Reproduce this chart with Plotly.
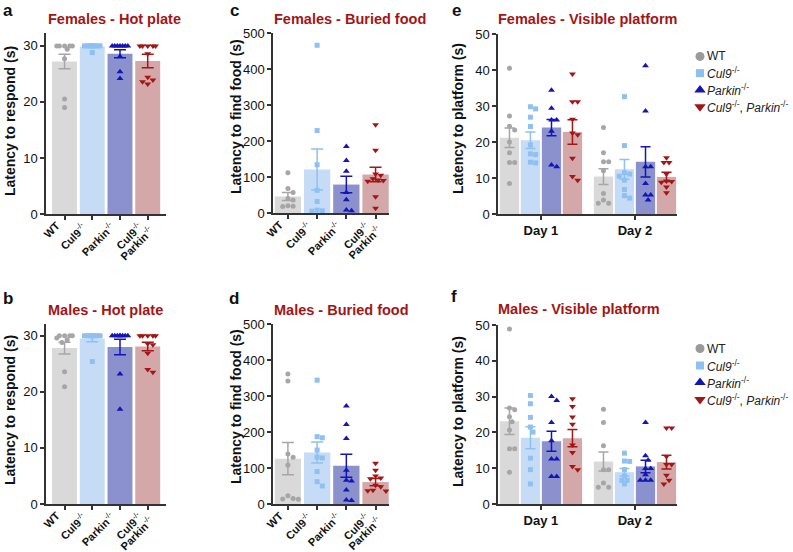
import numpy as np
import plotly.graph_objects as go

W, H = 793, 552

# ---------------- data ----------------
GENO_LINES = [["<b>WT</b>"], ["<b>Cul9</b><sup>-/-</sup>"], ["<b>Parkin</b><sup>-/-</sup>"],
              ["<b>Cul9</b><sup>-/-</sup>", "<b>Parkin</b><sup>-/-</sup>"]]
LEGEND_NAMES = ["WT", "<i>Cul9</i><sup>-/-</sup>", "<i>Parkin</i><sup>-/-</sup>",
                "<i>Cul9</i><sup>-/-</sup>, <i>Parkin</i><sup>-/-</sup>"]
DAY_TICKS = ["<b>Day 1</b>", "<b>Day 2</b>"]

# a - Females hot plate
HOT_F_MEAN = [27.2, 29.9, 28.6, 27.3]
HOT_F_SEM = [1.3, 0.1, 0.7, 1.2]
HOT_F_PTS = [[30, 30, 30, 30, 30, 29.4, 27.7, 20.5, 19.0],
             [30, 30, 30, 30, 30, 30, 30, 30, 30, 28.8],
             [30, 30, 30, 30, 30, 30, 30, 28.1, 25.4, 24.2],
             [30, 30, 30, 30, 30, 28.6, 24.4, 23.9, 23.6, 23.2]]
# b - Males hot plate
HOT_M_MEAN = [27.8, 29.5, 28.0, 28.1]
HOT_M_SEM = [1.05, 0.55, 1.4, 0.75]
HOT_M_PTS = [[30, 30, 30, 30, 29.6, 29.3, 28.8, 23.6, 20.9],
             [30, 30, 30, 30, 30, 30, 30, 30, 30, 25.4],
             [30, 30, 30, 30, 30, 30, 30, 30, 23.2, 16.9],
             [30, 30, 30, 30, 30, 28.6, 28.4, 26.9, 24.0, 23.5]]
# c - Females buried food
FOOD_F_MEAN = [46, 121, 79, 107]
FOOD_F_SEM = [11, 57, 23, 20]
FOOD_F_PTS = [[112, 68, 57, 40, 36, 20, 19, 18],
              [466, 229, 134, 63, 32, 8, 6, 5],
              [185, 146, 116, 57, 37, 8, 6],
              [245, 174, 108, 105, 95, 92, 90, 88, 45, 13]]
# d - Males buried food
FOOD_M_MEAN = [126, 143, 106, 61]
FOOD_M_SEM = [45, 29, 32, 10]
FOOD_M_PTS = [[361, 342, 139, 130, 108, 23, 15, 14, 13],
              [344, 187, 184, 150, 130, 128, 90, 62, 50],
              [272, 221, 182, 94, 66, 64, 39, 11, 10],
              [113, 94, 78, 72, 70, 52, 48, 38, 37, 36]]
# e - Females visible platform ([Day 1, Day 2] per genotype)
VIS_F_MEAN = [[21.2, 10.4], [20.5, 12.4], [24.0, 14.5], [22.8, 10.3]]
VIS_F_SEM = [[2.7, 2.2], [2.3, 2.75], [2.25, 4.2], [3.4, 1.3]]
VIS_F_D1 = [[40.5, 27.2, 24.4, 23.3, 20.0, 17.0, 14.3, 14.3, 8.5],
            [29.8, 29.2, 26.9, 24.3, 19.2, 16.7, 16.5, 14.4, 14.2],
            [34.4, 29.4, 26.1, 26.1, 23.0, 13.6, 13.1],
            [38.9, 31.2, 31.2, 26.3, 22.5, 22.0, 15.5, 10.4, 9.4]]
VIS_F_D2 = [[24.0, 17.0, 14.5, 14.5, 12.0, 5.7, 3.9, 3.0, 3.0],
            [32.6, 19.0, 11.5, 11.1, 10.5, 9.4, 6.8, 5.1, 4.4],
            [41.2, 28.6, 13.1, 13.1, 8.5, 5.3, 5.3, 3.9],
            [15.6, 14.3, 14.3, 11.1, 9.2, 9.0, 8.8, 7.5, 5.9]]
# f - Males visible platform
VIS_M_MEAN = [[23.1, 11.9], [18.5, 8.9], [17.5, 10.5], [18.4, 11.7]]
VIS_M_SEM = [[3.7, 2.65], [3.1, 1.05], [2.8, 1.75], [2.4, 1.9]]
VIS_M_D1 = [[48.9, 26.8, 26.3, 24.4, 23.0, 20.7, 15.4, 15.4, 8.9],
            [30.3, 28.0, 24.2, 21.5, 20.1, 12.8, 9.6, 5.6],
            [30.0, 28.9, 22.8, 17.7, 12.6, 12.6, 7.7, 7.7],
            [29.4, 27.2, 24.3, 22.3, 16.5, 14.4, 10.5, 9.6]]
VIS_M_D2 = [[26.5, 22.8, 16.3, 9.6, 9.6, 5.9, 4.7, 4.7],
            [14.2, 12.0, 11.9, 9.6, 7.9, 6.6, 6.6, 5.6],
            [22.8, 13.5, 12.2, 9.9, 9.9, 8.2, 6.6, 6.6, 6.6],
            [21.2, 21.2, 13.3, 11.0, 11.0, 8.0, 6.6, 5.6]]

# ---------------- styles ----------------
BAR_COL = ["#d9d9d9", "#c6dcf6", "#8a91cd", "#d4a8a8"]
PT_COL = ["#a6a6a6", "#8fc0f2", "#1515b5", "#a31616"]
SYMS = ["circle", "square", "triangle-up", "triangle-down"]
PT_SIZE = [5, 5, 6, 6]
LEG_SIZE = [9, 8, 10, 10]
FONT = "Liberation Sans, Arial, sans-serif"
AXC = "#333333"
TITLE_COL = "#a31515"
# pixel offsets (dx, dy) of each label line's upper-right end relative to its tick
LINE_OFFSETS = [(-1.5, 4.0), (9.8, 8.3)]


def xdom(x0, x1):
    return [x0 / W, x1 / W]


def ydom(y0, y1):
    return [1 - y1 / H, 1 - y0 / H]


def swarm(values, ypx, half_w, d):
    """Beeswarm x-offsets in px."""
    step = d / 2.0
    cands = [0.0]
    k = 1
    while k * step <= half_w + 0.01:
        cands += [k * step, -k * step]
        k += 1
    order = np.argsort(-np.asarray(values, float), kind="stable")
    res = [0.0] * len(values)
    placed = []
    for i in order:
        y = values[i] * ypx
        chosen, best_c, best_d = None, 0.0, -1
        for c in cands:
            md = min((np.hypot(c - px, y - py) for px, py in placed), default=1e9)
            if md >= d:
                chosen = c
                break
            if md > best_d:
                best_d, best_c = md, c
        if chosen is None:
            chosen = best_c
        placed.append((chosen, y))
        res[i] = chosen
    return res


fig = go.Figure()
annotations = []

GEO = {
    "a": dict(i=1, xd=(46, 166), yd=(33, 214), ymax=32.3, xr=(-0.67, 3.66), dt=10),
    "b": dict(i=2, xd=(46, 166), yd=(324, 504), ymax=32.1, xr=(-0.67, 3.66), dt=10),
    "c": dict(i=3, xd=(273, 389), yd=(33, 213), ymax=500, xr=(-0.51, 3.46), dt=100),
    "d": dict(i=4, xd=(273, 389), yd=(324, 504), ymax=500, xr=(-0.51, 3.46), dt=100),
    "e": dict(i=5, xd=(498, 677), yd=(34, 214), ymax=50, xr=(-0.457, 1.447), dt=10),
    "f": dict(i=6, xd=(498, 677), yd=(325, 504), ymax=50, xr=(-0.457, 1.447), dt=10),
}


def axn(i):
    return ("x" if i == 1 else f"x{i}"), ("y" if i == 1 else f"y{i}")


def setup_axes(g, tickvals, ticktext, show_labels):
    i = g["i"]
    xs = "xaxis" if i == 1 else f"xaxis{i}"
    ys = "yaxis" if i == 1 else f"yaxis{i}"
    xa, ya = axn(i)
    fig.update_layout(**{
        xs: dict(domain=xdom(*g["xd"]), range=list(g["xr"]), anchor=ya, showline=True, automargin=False,
                 linecolor=AXC, linewidth=1.5, ticks="outside", ticklen=4, tickwidth=1.5,
                 tickcolor=AXC, tickvals=tickvals, ticktext=ticktext, showticklabels=show_labels,
                 tickfont=dict(family=FONT, size=13, color="#111"),
                 showgrid=False, zeroline=False, fixedrange=True),
        ys: dict(domain=ydom(*g["yd"]), range=[0, g["ymax"]], anchor=xa, showline=True, automargin=False,
                 linecolor=AXC, linewidth=1.5, ticks="outside", ticklen=4, tickwidth=1.5,
                 tickcolor=AXC, tickmode="linear", tick0=0, dtick=g["dt"],
                 tickfont=dict(family=FONT, size=13, color="#111"),
                 showgrid=False, zeroline=False, fixedrange=True),
    })


def four_group_panel(key, means, sems, pts):
    g = GEO[key]
    xa, ya = axn(g["i"])
    ppx = (g["xd"][1] - g["xd"][0]) / (g["xr"][1] - g["xr"][0])
    ypx = (g["yd"][1] - g["yd"][0]) / g["ymax"]
    bw = 0.9
    for k in range(4):
        fig.add_trace(go.Bar(x=[k], y=[means[k]], width=bw, marker=dict(color=BAR_COL[k], line=dict(width=0)),
                             xaxis=xa, yaxis=ya, showlegend=False, hoverinfo="skip"))
        offs = swarm(pts[k], ypx, bw * ppx / 2 - 2.5, 5.2)
        fig.add_trace(go.Scatter(x=[k + o / ppx for o in offs], y=pts[k], mode="markers",
                                 marker=dict(symbol=SYMS[k], size=PT_SIZE[k], color=PT_COL[k], line=dict(width=0)),
                                 xaxis=xa, yaxis=ya, showlegend=False, hoverinfo="skip"))
        fig.add_trace(go.Scatter(x=[k], y=[means[k]], mode="markers", marker=dict(size=1, opacity=0),
                                 error_y=dict(type="data", array=[sems[k]], color=PT_COL[k], thickness=1.5, width=6),
                                 xaxis=xa, yaxis=ya, showlegend=False, hoverinfo="skip"))
        # rotated category labels: each line's upper-right end sits just below its tick
        for j, line in enumerate(GENO_LINES[k]):
            dx, dy = LINE_OFFSETS[j]
            annotations.append(dict(xref=xa, yref="paper", x=k + dx / ppx,
                                    y=1 - (g["yd"][1] + dy) / H, text=line, showarrow=False,
                                    textangle=-45, xanchor="right", yanchor="top",
                                    borderpad=0, font=dict(family=FONT, size=11, color="#111")))
    setup_axes(g, [0, 1, 2, 3], None, False)


def day_panel(key, means, sems, d1, d2):
    g = GEO[key]
    xa, ya = axn(g["i"])
    ppx = (g["xd"][1] - g["xd"][0]) / (g["xr"][1] - g["xr"][0])
    ypx = (g["yd"][1] - g["yd"][0]) / g["ymax"]
    offsets = [-0.335, -0.112, 0.112, 0.335]
    bw = 0.205
    for k in range(4):
        xs = [0 + offsets[k], 1 + offsets[k]]
        fig.add_trace(go.Bar(x=xs, y=means[k], width=bw, marker=dict(color=BAR_COL[k], line=dict(width=0)),
                             xaxis=xa, yaxis=ya, showlegend=False, hoverinfo="skip"))
        for day, pts in enumerate([d1[k], d2[k]]):
            offs = swarm(pts, ypx, bw * ppx / 2 - 2.5, 5.2)
            fig.add_trace(go.Scatter(x=[xs[day] + o / ppx for o in offs], y=pts, mode="markers",
                                     marker=dict(symbol=SYMS[k], size=PT_SIZE[k], color=PT_COL[k], line=dict(width=0)),
                                     xaxis=xa, yaxis=ya, showlegend=False, hoverinfo="skip"))
        fig.add_trace(go.Scatter(x=xs, y=means[k], mode="markers", marker=dict(size=1, opacity=0),
                                 error_y=dict(type="data", array=sems[k], color=PT_COL[k], thickness=1.5, width=5),
                                 xaxis=xa, yaxis=ya, showlegend=False, hoverinfo="skip"))
    setup_axes(g, [0, 1], DAY_TICKS, True)


four_group_panel("a", HOT_F_MEAN, HOT_F_SEM, HOT_F_PTS)
four_group_panel("b", HOT_M_MEAN, HOT_M_SEM, HOT_M_PTS)
four_group_panel("c", FOOD_F_MEAN, FOOD_F_SEM, FOOD_F_PTS)
four_group_panel("d", FOOD_M_MEAN, FOOD_M_SEM, FOOD_M_PTS)
day_panel("e", VIS_F_MEAN, VIS_F_SEM, VIS_F_D1, VIS_F_D2)
day_panel("f", VIS_M_MEAN, VIS_M_SEM, VIS_M_D1, VIS_M_D2)

# ---------------- legends (drawn in small invisible axes) ----------------
LEG_BOX = {7: ((690, 793), (48, 115)), 8: ((690, 793), (340, 408))}
for i, (xd, yd) in LEG_BOX.items():
    xa, ya = axn(i)
    fig.update_layout(**{
        f"xaxis{i}": dict(domain=xdom(*xd), range=[0, xd[1] - xd[0]], visible=False, fixedrange=True,
                          anchor=ya, automargin=False),
        f"yaxis{i}": dict(domain=ydom(*yd), range=[3.5, -0.5], visible=False, fixedrange=True,
                          anchor=xa, automargin=False),
    })
    for k in range(4):
        fig.add_trace(go.Scatter(x=[10], y=[k], mode="markers",
                                 marker=dict(symbol=SYMS[k], size=LEG_SIZE[k], color=PT_COL[k] if k != 0 else "#9a9a9a",
                                             line=dict(width=0)),
                                 xaxis=xa, yaxis=ya, showlegend=False, hoverinfo="skip"))
        annotations.append(dict(xref=xa, yref=ya, x=15, y=k, text=LEGEND_NAMES[k], showarrow=False,
                                xanchor="left", yanchor="middle",
                                font=dict(family=FONT, size=12, color="#222")))


def pann(x, y, text, **kw):
    d = dict(xref="paper", yref="paper", x=x / W, y=1 - y / H, text=text, showarrow=False)
    d.update(kw)
    annotations.append(d)


LETTERS = [("a", 8, 11), ("b", 8, 298), ("c", 235, 11), ("d", 234, 298), ("e", 456, 11), ("f", 454, 297)]
for t, x, y in LETTERS:
    pann(x, y, f"<b>{t}</b>", xanchor="center", yanchor="middle", font=dict(family=FONT, size=17, color="#111"))

TITLES = [("Females - Hot plate", 46, 19.5), ("Males - Hot plate", 46, 309.5),
          ("Females - Buried food", 272, 19.5), ("Males - Buried food", 272, 309.5),
          ("Females - Visible platform", 496, 19.5), ("Males - Visible platform", 496, 308.5)]
for t, x, y in TITLES:
    pann(x, y, f"<b>{t}</b>", xanchor="left", yanchor="middle", font=dict(family=FONT, size=14.5, color=TITLE_COL))

YTITLES = [("Latency to respond (s)", 10, 121), ("Latency to respond (s)", 10, 410),
           ("Latency to find food (s)", 236, 117), ("Latency to find food (s)", 236, 407),
           ("Latency to platform (s)", 458, 119), ("Latency to platform (s)", 458, 412)]
for t, x, y in YTITLES:
    pann(x, y, f"<b>{t}</b>", xanchor="center", yanchor="middle", textangle=-90,
         font=dict(family=FONT, size=14, color="#111"))

fig.update_layout(
    width=W, height=H, margin=dict(l=0, r=0, t=0, b=0, autoexpand=False),
    paper_bgcolor="white", plot_bgcolor="rgba(0,0,0,0)",
    barmode="overlay", showlegend=False, annotations=annotations,
    font=dict(family=FONT, color="#111"),
)

fig.write_html("out.html", config={"displayModeBar": False},
               post_script="document.body.style.margin='0px';document.body.style.padding='0px';")
